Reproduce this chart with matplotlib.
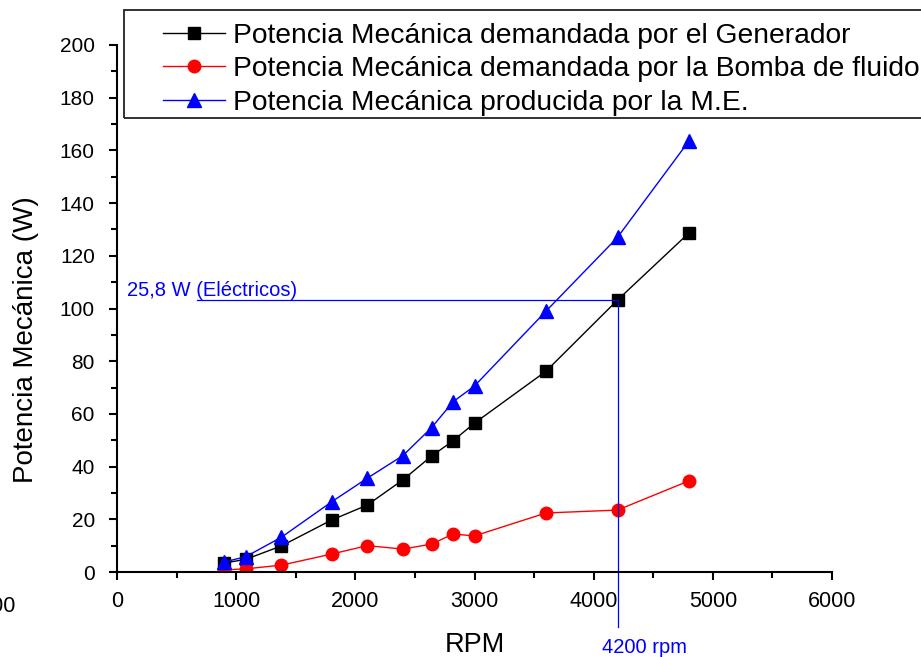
import matplotlib
matplotlib.use("Agg")
from matplotlib import pyplot as plt
from matplotlib.ticker import MultipleLocator
from matplotlib.patches import Rectangle

plt.rcParams['font.family'] = ['Liberation Sans', 'DejaVu Sans']

rpm = [900, 1080, 1380, 1800, 2100, 2400, 2640, 2820, 3000, 3600, 4200, 4800]
p_generador = [3.4, 4.8, 9.9, 19.7, 25.4, 35.0, 44.0, 49.8, 56.5, 76.2, 103.2, 128.7]
p_bomba = [0.8, 1.2, 2.6, 6.8, 10.0, 8.7, 10.6, 14.4, 13.7, 22.4, 23.5, 34.6]
p_me = [3.8, 5.8, 13.2, 26.6, 35.6, 44.2, 54.8, 64.6, 70.6, 99.0, 127.0, 163.6]

labels = ["Potencia Mecánica demandada por el Generador",
          "Potencia Mecánica demandada por la Bomba de fluido",
          "Potencia Mecánica producida por la M.E."]

rpm_sel = 4200
p_sel = 103.2

W, H = 921, 657
fig = plt.figure(figsize=(W / 100, H / 100), dpi=100)
ax = fig.add_axes([117 / W, 85 / H, 715 / W, 527 / H])

ax.plot(rpm, p_generador, color='black', lw=1, marker='s', ms=8.5, label=labels[0])
ax.plot(rpm, p_bomba, color='red', lw=1, marker='o', ms=9, label=labels[1])
ax.plot(rpm, p_me, color='blue', lw=1, marker='^', ms=9.5, label=labels[2])

# lineas de referencia
ax.plot([670, rpm_sel], [p_sel, p_sel], color='blue', lw=0.9)
ax.plot([rpm_sel, rpm_sel], [-21, p_sel], color='blue', lw=0.9, clip_on=False)
ax.text(84, 107, "25,8 W (Eléctricos)", color='blue', fontsize=14.5, ha='left', va='center')
ax.text(4430, -28.5, "4200 rpm", color='blue', fontsize=14.5, ha='center', va='center')

ax.set_xlim(0, 6000)
ax.set_ylim(0, 200)
ax.xaxis.set_major_locator(MultipleLocator(1000))
ax.xaxis.set_minor_locator(MultipleLocator(500))
ax.yaxis.set_major_locator(MultipleLocator(20))
ax.yaxis.set_minor_locator(MultipleLocator(10))
ax.tick_params(which='major', direction='out', length=6, width=1.5, labelsize=15.5)
ax.tick_params(which='minor', direction='out', length=4, width=1.5)
ax.tick_params(axis='x', which='major', pad=8)
ax.tick_params(axis='y', which='major', pad=10, labelsize=15)
ax.spines['top'].set_visible(False)
ax.spines['right'].set_visible(False)
ax.spines['left'].set_linewidth(1.5)
ax.spines['bottom'].set_linewidth(1.5)

ax.set_xlabel("RPM", fontsize=19.5, labelpad=14)
ax.set_ylabel("Potencia Mecánica (W)", fontsize=20)
ax.yaxis.set_label_coords(-0.109, 0.44)

# marco de la leyenda (se sale por la derecha)
fig.add_artist(Rectangle((124 / W, 1 - 118 / H), 820 / W, 108 / H,
                         transform=fig.transFigure, fill=False,
                         edgecolor='#222222', lw=1.3))
leg = fig.legend(loc='upper left', bbox_to_anchor=(163 / W, 1 - 23 / H),
                 fontsize=20.3, frameon=False, borderpad=0, borderaxespad=0,
                 handlelength=2.2, handletextpad=0.3, labelspacing=0.26)

# etiqueta cortada en el borde
fig.text(16 / W, 1 - 606 / H, "6000", fontsize=15.5, ha='right', va='center')

fig.savefig("out.png", dpi=100)
